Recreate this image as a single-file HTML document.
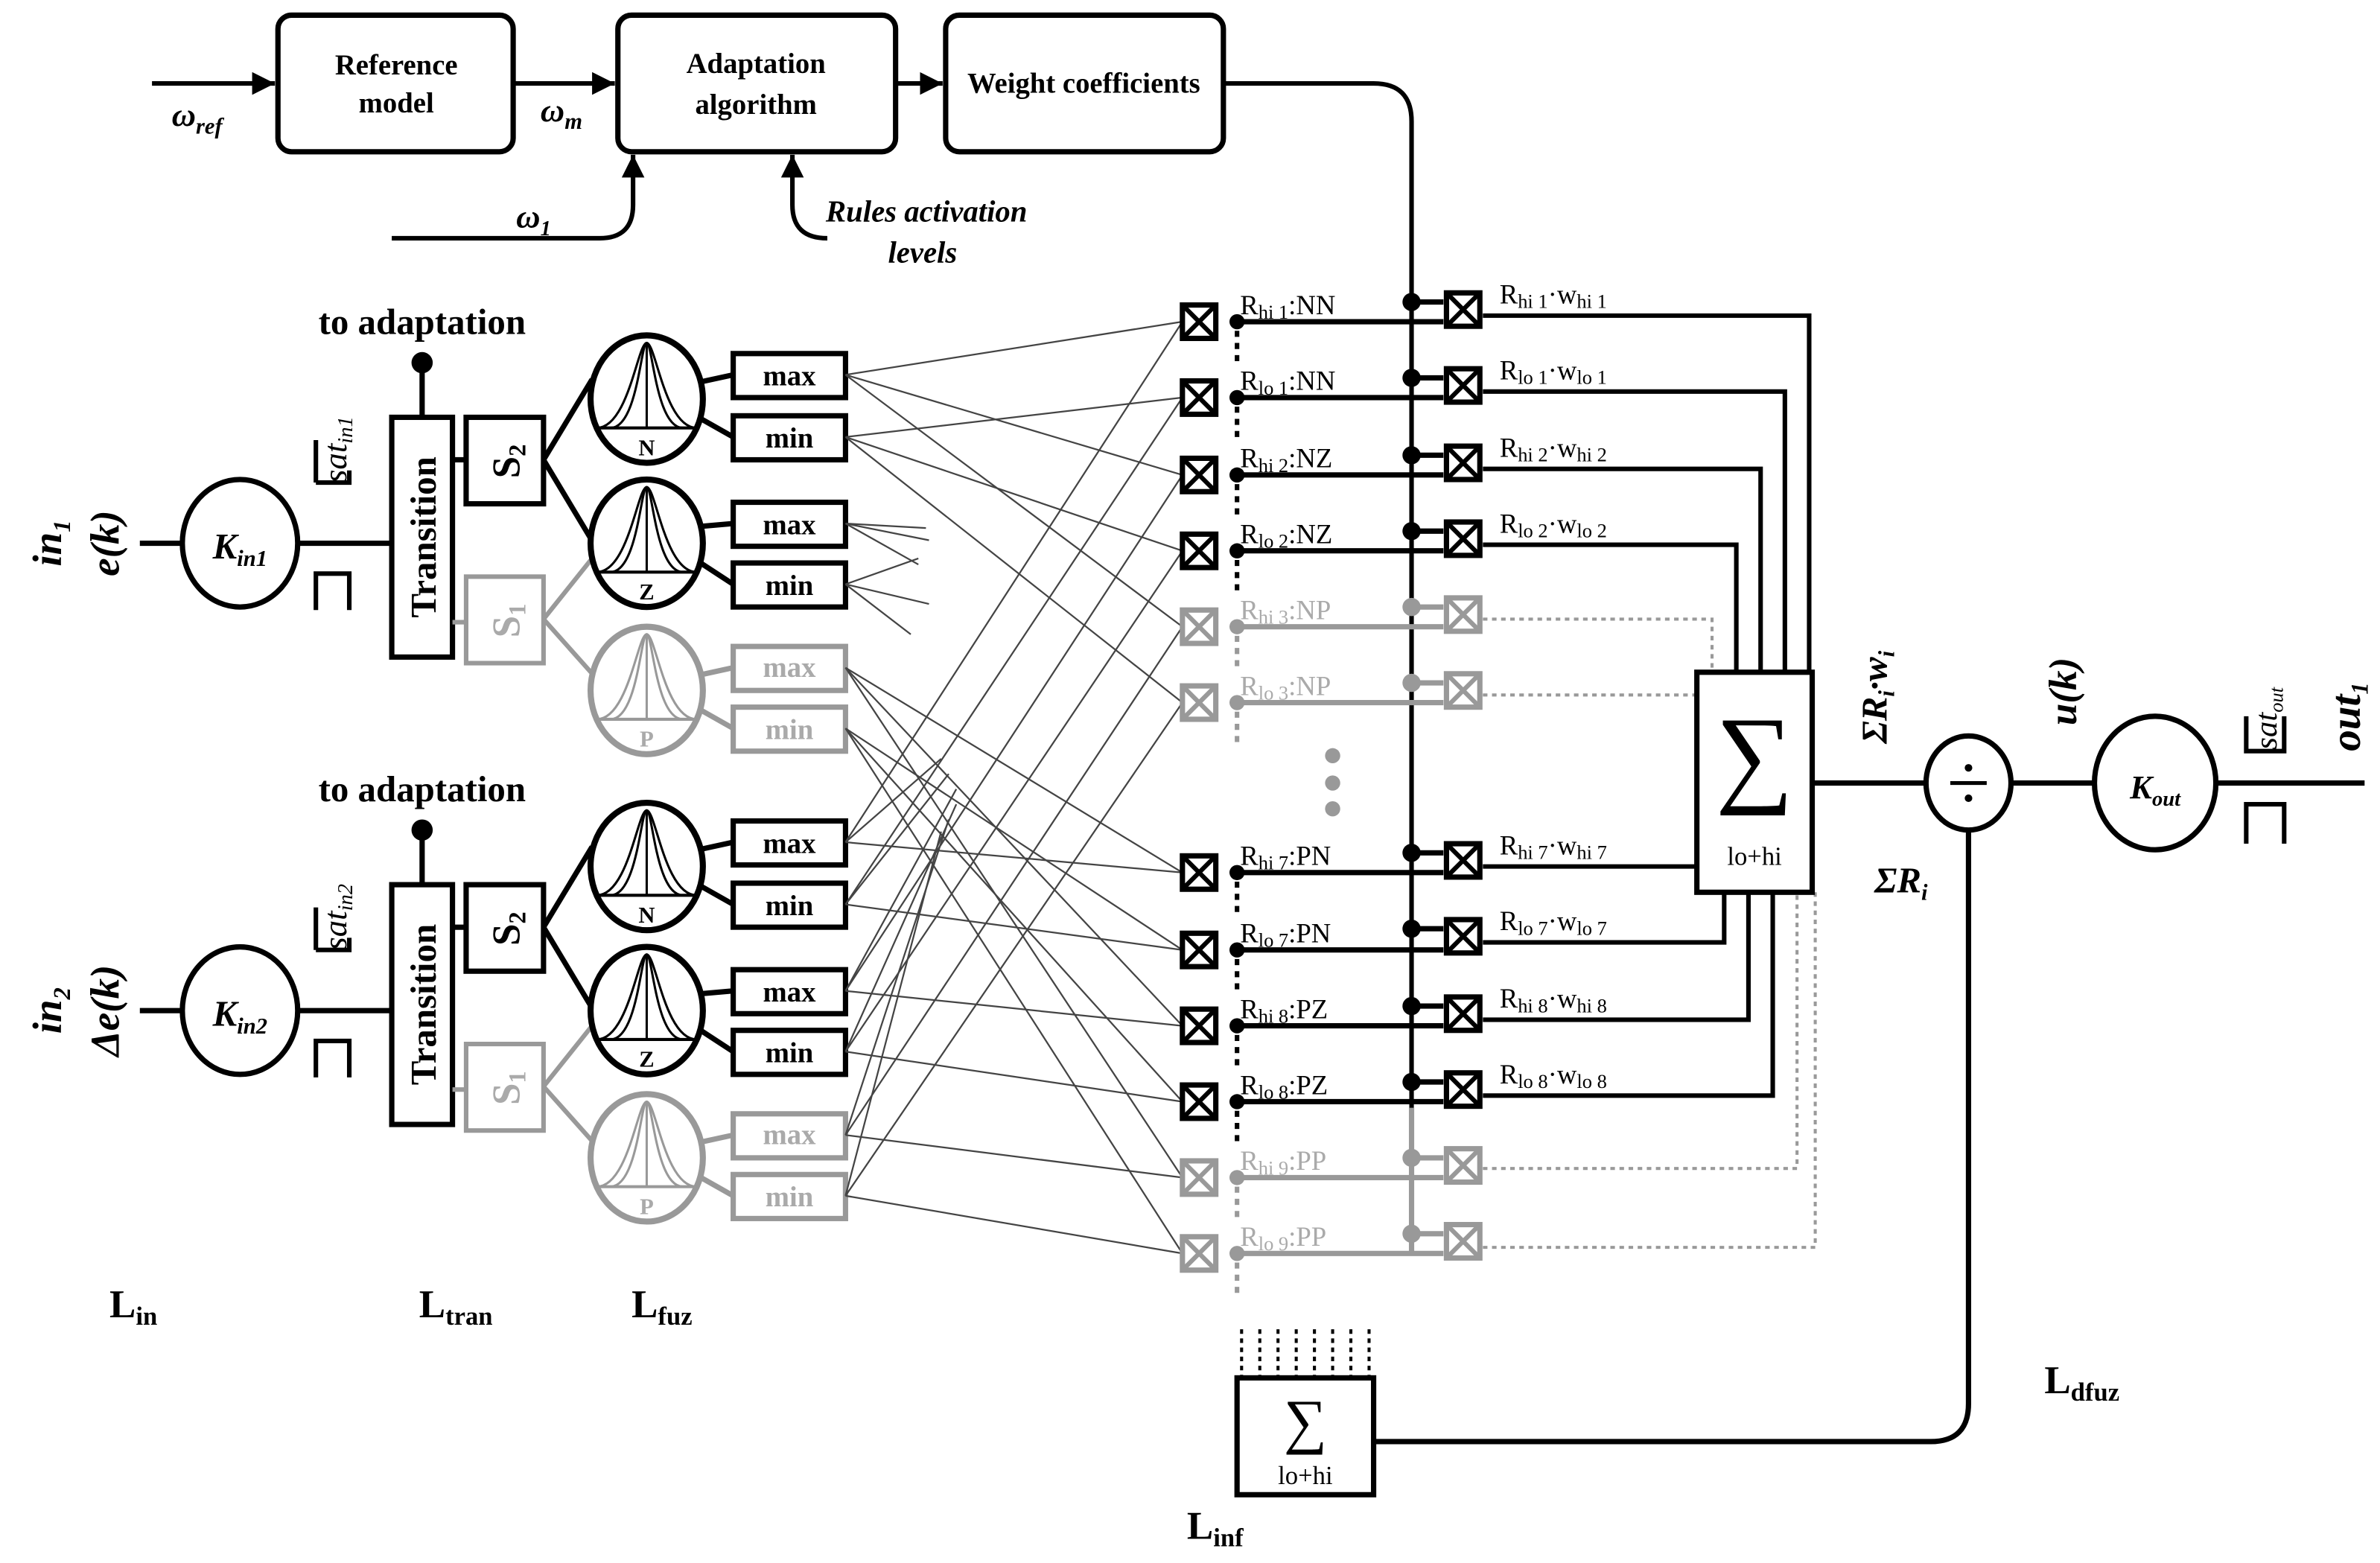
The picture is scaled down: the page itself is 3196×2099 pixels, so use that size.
<!DOCTYPE html>
<html><head><meta charset="utf-8"><style>
html,body{margin:0;padding:0;background:#fff;}
svg{display:block;}
text{font-family:"Liberation Serif",serif;}
.b{font-weight:bold;}
.bi{font-weight:bold;font-style:italic;}
</style></head><body>
<svg width="3196" height="2099" viewBox="0 0 1568 1030" xmlns="http://www.w3.org/2000/svg">
<defs>
<g id="mf">
<ellipse cx="0" cy="0" rx="37" ry="42" fill="#fff" stroke-width="4"/>
<line x1="-33" y1="19" x2="33" y2="19" stroke-width="2"/>
<line x1="0" y1="-37" x2="0" y2="19" stroke-width="1.5"/>
<path d="M-33,19 C-12,19 -6,-37 0,-37 C6,-37 12,19 33,19" fill="none" stroke-width="1.5"/>
<path d="M-24,19 C-6,19 -4,-37 0,-37 C4,-37 6,19 24,19" fill="none" stroke-width="1.5"/>
</g>
<g id="rb">
<rect x="-11" y="-11" width="22" height="22" fill="#fff" stroke-width="3.5"/>
<line x1="-10" y1="-10" x2="10" y2="10" stroke-width="3"/>
<line x1="10" y1="-10" x2="-10" y2="10" stroke-width="3"/>
</g>
<marker id="ar" viewBox="0 0 10 10" refX="10" refY="5" markerWidth="5" markerHeight="5" orient="auto"><path d="M0,0 L10,5 L0,10 z" fill="#000"/></marker>
</defs>

<g stroke="#000" stroke-width="3.5" fill="#fff">
<rect x="183" y="10" width="155" height="90" rx="9"/>
<rect x="407" y="10" width="183" height="90" rx="9"/>
<rect x="623" y="10" width="183" height="90" rx="9"/>
</g>
<g stroke="#000" stroke-width="3" fill="none">
<line x1="100" y1="55" x2="181" y2="55" marker-end="url(#ar)"/>
<line x1="338" y1="55" x2="405" y2="55" marker-end="url(#ar)"/>
<line x1="590" y1="55" x2="621" y2="55" marker-end="url(#ar)"/>
<path d="M806,55 L905,55 Q930,55 930,80 L930,826"/>
<path d="M258,157 L395,157 Q417,157 417,135 L417,102" marker-end="url(#ar)"/>
<path d="M545,157 Q522,157 522,135 L522,102" marker-end="url(#ar)"/>
</g>
<g class="b" font-size="19" text-anchor="middle">
<text x="261" y="49">Reference</text><text x="261" y="74">model</text>
<text x="498" y="48">Adaptation</text><text x="498" y="75">algorithm</text>
<text x="714" y="61">Weight coefficients</text>
</g>
<text class="bi" x="113" y="83" font-size="22">ω<tspan font-size="15" dy="5">ref</tspan></text>
<text class="bi" x="356" y="80" font-size="22">ω<tspan font-size="15" dy="5">m</tspan></text>
<text class="bi" x="340" y="150" font-size="22">ω<tspan font-size="14" dy="5">1</tspan></text>
<text class="bi" x="544" y="146" font-size="20">Rules activation</text>
<text class="bi" x="585" y="173" font-size="20">levels</text>

<g id="grp1">
<text class="bi" font-size="27" transform="translate(40,358) rotate(-90)" text-anchor="middle">in<tspan font-size="16" dy="6">1</tspan></text>
<text class="bi" font-size="27" transform="translate(78,358) rotate(-90)" text-anchor="middle">e(k)</text>
<g stroke="#000" stroke-width="3.5" fill="none">
<line x1="92" y1="358" x2="120" y2="358"/>
<ellipse cx="158" cy="358" rx="38" ry="42" fill="#fff"/>
<line x1="196" y1="358" x2="258" y2="358"/>
<path d="M208,318 L208,290 M208,318 L230,318 L230,310" stroke-width="3"/>
<path d="M208,402 L208,378 L230,378 L230,402" stroke-width="3"/>
<rect x="258" y="275" width="40" height="158" fill="#fff"/>
<line x1="278" y1="275" x2="278" y2="240"/>
<line x1="298" y1="303" x2="307" y2="303"/>
<rect x="307" y="275" width="51" height="57" fill="#fff"/>
<line x1="358" y1="303" x2="390" y2="250"/>
<line x1="358" y1="303" x2="391" y2="358"/>
</g>
<circle cx="278" cy="239" r="7" fill="#000"/>
<text class="b" x="278" y="220" font-size="24" text-anchor="middle">to adaptation</text>
<text class="b" font-size="24" transform="translate(287,354) rotate(-90)" text-anchor="middle">Transition</text>
<text class="b" font-size="26" transform="translate(342,304) rotate(-90)" text-anchor="middle">S<tspan font-size="16" dy="4">2</tspan></text>
<text font-style="italic" font-size="22" transform="translate(228,318) rotate(-90)">sat<tspan font-size="14" dy="4">in1</tspan></text>
<g stroke="#999" stroke-width="3" fill="none">
<line x1="298" y1="410" x2="307" y2="410"/>
<rect x="307" y="380" width="51" height="57" fill="#fff"/>
<line x1="358" y1="408" x2="390" y2="368"/>
<line x1="358" y1="408" x2="391" y2="445"/>
</g>
<text class="b" font-size="26" fill="#aaa" transform="translate(342,409) rotate(-90)" text-anchor="middle">S<tspan font-size="16" dy="4">1</tspan></text>
<g stroke="#000"><use href="#mf" x="426" y="263"/><use href="#mf" x="426" y="358"/></g>
<g stroke="#999"><use href="#mf" x="426" y="455"/></g>
<text class="b" x="426" y="300" font-size="15" text-anchor="middle">N</text>
<text class="b" x="426" y="395" font-size="15" text-anchor="middle">Z</text>
<text class="b" x="426" y="492" font-size="15" text-anchor="middle" fill="#aaa">P</text>
<g stroke="#000" stroke-width="3.5" fill="#fff">
<line x1="460" y1="252" x2="483" y2="247"/><line x1="460" y1="275" x2="483" y2="288"/>
<line x1="460" y1="347" x2="483" y2="345"/><line x1="460" y1="370" x2="483" y2="385"/>
<rect x="483" y="233" width="74" height="29"/><rect x="483" y="274" width="74" height="29"/>
<rect x="483" y="331" width="74" height="29"/><rect x="483" y="371" width="74" height="29"/>
</g>
<g stroke="#999" stroke-width="3.5" fill="#fff">
<line x1="460" y1="445" x2="483" y2="440"/><line x1="460" y1="467" x2="483" y2="480"/>
<rect x="483" y="426" width="74" height="29"/><rect x="483" y="466" width="74" height="29"/>
</g>
<g class="b" font-size="19" text-anchor="middle">
<text x="520" y="254">max</text><text x="520" y="295">min</text>
<text x="520" y="352">max</text><text x="520" y="392">min</text>
<text x="520" y="446" fill="#aaa">max</text><text x="520" y="487" fill="#aaa">min</text>
</g>
</g>

<g id="grp2">
<text class="bi" font-size="27" transform="translate(40,666) rotate(-90)" text-anchor="middle">in<tspan font-size="16" dy="6">2</tspan></text>
<text class="bi" font-size="27" transform="translate(78,666) rotate(-90)" text-anchor="middle">Δe(k)</text>
<g stroke="#000" stroke-width="3.5" fill="none">
<line x1="92" y1="666" x2="120" y2="666"/>
<ellipse cx="158" cy="666" rx="38" ry="42" fill="#fff"/>
<line x1="196" y1="666" x2="258" y2="666"/>
<path d="M208,626 L208,598 M208,626 L230,626 L230,618" stroke-width="3"/>
<path d="M208,710 L208,686 L230,686 L230,710" stroke-width="3"/>
<rect x="258" y="583" width="40" height="158" fill="#fff"/>
<line x1="278" y1="583" x2="278" y2="548"/>
<line x1="298" y1="611" x2="307" y2="611"/>
<rect x="307" y="583" width="51" height="57" fill="#fff"/>
<line x1="358" y1="611" x2="390" y2="558"/>
<line x1="358" y1="611" x2="391" y2="666"/>
</g>
<circle cx="278" cy="547" r="7" fill="#000"/>
<text class="b" x="278" y="528" font-size="24" text-anchor="middle">to adaptation</text>
<text class="b" font-size="24" transform="translate(287,662) rotate(-90)" text-anchor="middle">Transition</text>
<text class="b" font-size="26" transform="translate(342,612) rotate(-90)" text-anchor="middle">S<tspan font-size="16" dy="4">2</tspan></text>
<text font-style="italic" font-size="22" transform="translate(228,626) rotate(-90)">sat<tspan font-size="14" dy="4">in2</tspan></text>
<g stroke="#999" stroke-width="3" fill="none">
<line x1="298" y1="718" x2="307" y2="718"/>
<rect x="307" y="688" width="51" height="57" fill="#fff"/>
<line x1="358" y1="716" x2="390" y2="676"/>
<line x1="358" y1="716" x2="391" y2="753"/>
</g>
<text class="b" font-size="26" fill="#aaa" transform="translate(342,717) rotate(-90)" text-anchor="middle">S<tspan font-size="16" dy="4">1</tspan></text>
<g stroke="#000"><use href="#mf" x="426" y="571"/><use href="#mf" x="426" y="666"/></g>
<g stroke="#999"><use href="#mf" x="426" y="763"/></g>
<text class="b" x="426" y="608" font-size="15" text-anchor="middle">N</text>
<text class="b" x="426" y="703" font-size="15" text-anchor="middle">Z</text>
<text class="b" x="426" y="800" font-size="15" text-anchor="middle" fill="#aaa">P</text>
<g stroke="#000" stroke-width="3.5" fill="#fff">
<line x1="460" y1="560" x2="483" y2="555"/><line x1="460" y1="583" x2="483" y2="596"/>
<line x1="460" y1="655" x2="483" y2="653"/><line x1="460" y1="678" x2="483" y2="693"/>
<rect x="483" y="541" width="74" height="29"/><rect x="483" y="582" width="74" height="29"/>
<rect x="483" y="639" width="74" height="29"/><rect x="483" y="679" width="74" height="29"/>
</g>
<g stroke="#999" stroke-width="3.5" fill="#fff">
<line x1="460" y1="753" x2="483" y2="748"/><line x1="460" y1="775" x2="483" y2="788"/>
<rect x="483" y="734" width="74" height="29"/><rect x="483" y="774" width="74" height="29"/>
</g>
<g class="b" font-size="19" text-anchor="middle">
<text x="520" y="562">max</text><text x="520" y="603">min</text>
<text x="520" y="660">max</text><text x="520" y="700">min</text>
<text x="520" y="754" fill="#aaa">max</text><text x="520" y="795" fill="#aaa">min</text>
</g>
</g>

<g stroke="#444" stroke-width="1.1">
<line x1="557" y1="247" x2="779" y2="212"/><line x1="557" y1="247" x2="779" y2="313"/><line x1="557" y1="247" x2="779" y2="413"/>
<line x1="557" y1="288" x2="779" y2="262"/><line x1="557" y1="288" x2="779" y2="363"/><line x1="557" y1="288" x2="779" y2="463"/>
<line x1="557" y1="440" x2="779" y2="575"/><line x1="557" y1="440" x2="779" y2="676"/><line x1="557" y1="440" x2="779" y2="776"/>
<line x1="557" y1="480" x2="779" y2="626"/><line x1="557" y1="480" x2="779" y2="726"/><line x1="557" y1="480" x2="779" y2="826"/>
<line x1="557" y1="555" x2="779" y2="212"/><line x1="557" y1="555" x2="779" y2="575"/>
<line x1="557" y1="596" x2="779" y2="262"/><line x1="557" y1="596" x2="779" y2="626"/>
<line x1="557" y1="653" x2="779" y2="313"/><line x1="557" y1="653" x2="779" y2="676"/>
<line x1="557" y1="693" x2="779" y2="363"/><line x1="557" y1="693" x2="779" y2="726"/>
<line x1="557" y1="748" x2="779" y2="413"/><line x1="557" y1="748" x2="779" y2="776"/>
<line x1="557" y1="788" x2="779" y2="463"/><line x1="557" y1="788" x2="779" y2="826"/>
<line x1="557" y1="345" x2="610" y2="348"/><line x1="557" y1="345" x2="612" y2="356"/><line x1="557" y1="345" x2="605" y2="372"/>
<line x1="557" y1="385" x2="605" y2="368"/><line x1="557" y1="385" x2="612" y2="398"/><line x1="557" y1="385" x2="600" y2="418"/>
<line x1="557" y1="555" x2="620" y2="500"/><line x1="557" y1="596" x2="625" y2="510"/>
<line x1="557" y1="653" x2="630" y2="520"/><line x1="557" y1="693" x2="630" y2="530"/>
<line x1="557" y1="748" x2="625" y2="540"/><line x1="557" y1="788" x2="620" y2="548"/>
</g>

<g stroke="#000" fill="none">
<g stroke-width="3.5">
<line x1="815" y1="212" x2="951" y2="212"/><line x1="815" y1="262" x2="951" y2="262"/>
<line x1="815" y1="313" x2="951" y2="313"/><line x1="815" y1="363" x2="951" y2="363"/>
<line x1="815" y1="575" x2="951" y2="575"/><line x1="815" y1="626" x2="951" y2="626"/>
<line x1="815" y1="676" x2="951" y2="676"/><line x1="815" y1="726" x2="951" y2="726"/>
<line x1="930" y1="199" x2="951" y2="199"/><line x1="930" y1="249" x2="951" y2="249"/>
<line x1="930" y1="300" x2="951" y2="300"/><line x1="930" y1="350" x2="951" y2="350"/>
<line x1="930" y1="562" x2="951" y2="562"/><line x1="930" y1="612" x2="951" y2="612"/>
<line x1="930" y1="663" x2="951" y2="663"/><line x1="930" y1="713" x2="951" y2="713"/>
</g>
<g stroke-width="3">
<polyline points="977,208 1192,208 1192,443"/>
<polyline points="977,258 1176,258 1176,443"/>
<polyline points="977,309 1160,309 1160,443"/>
<polyline points="977,359 1144,359 1144,443"/>
<line x1="977" y1="571" x2="1118" y2="571"/>
<polyline points="977,621 1136,621 1136,588"/>
<polyline points="977,672 1152,672 1152,588"/>
<polyline points="977,722 1168,722 1168,588"/>
</g>
<g stroke-width="3" stroke-dasharray="4,4">
<line x1="815" y1="218" x2="815" y2="242"/><line x1="815" y1="268" x2="815" y2="292"/>
<line x1="815" y1="319" x2="815" y2="343"/><line x1="815" y1="369" x2="815" y2="393"/>
<line x1="815" y1="581" x2="815" y2="605"/><line x1="815" y1="632" x2="815" y2="656"/>
<line x1="815" y1="682" x2="815" y2="706"/><line x1="815" y1="732" x2="815" y2="756"/>
</g>
</g>
<g stroke="#999" fill="none">
<g stroke-width="3.5">
<line x1="815" y1="413" x2="951" y2="413"/><line x1="815" y1="463" x2="951" y2="463"/>
<line x1="815" y1="776" x2="951" y2="776"/><line x1="815" y1="826" x2="951" y2="826"/>
<line x1="930" y1="400" x2="951" y2="400"/><line x1="930" y1="450" x2="951" y2="450"/>
<line x1="930" y1="763" x2="951" y2="763"/><line x1="930" y1="813" x2="951" y2="813"/>
<line x1="930" y1="730" x2="930" y2="826"/>
</g>
<g stroke-width="2" stroke-dasharray="3,3">
<polyline points="977,408 1128,408 1128,443"/>
<line x1="977" y1="458" x2="1118" y2="458"/>
<polyline points="977,770 1184,770 1184,588"/>
<polyline points="977,822 1196,822 1196,588"/>
</g>
<g stroke-width="3" stroke-dasharray="4,4">
<line x1="815" y1="419" x2="815" y2="443"/><line x1="815" y1="469" x2="815" y2="493"/>
<line x1="815" y1="782" x2="815" y2="806"/><line x1="815" y1="832" x2="815" y2="852"/>
</g>
</g>
<g fill="#000">
<circle cx="815" cy="212" r="5"/><circle cx="815" cy="262" r="5"/><circle cx="815" cy="313" r="5"/><circle cx="815" cy="363" r="5"/>
<circle cx="815" cy="575" r="5"/><circle cx="815" cy="626" r="5"/><circle cx="815" cy="676" r="5"/><circle cx="815" cy="726" r="5"/>
<circle cx="930" cy="199" r="6"/><circle cx="930" cy="249" r="6"/><circle cx="930" cy="300" r="6"/><circle cx="930" cy="350" r="6"/>
<circle cx="930" cy="562" r="6"/><circle cx="930" cy="612" r="6"/><circle cx="930" cy="663" r="6"/><circle cx="930" cy="713" r="6"/>
</g>
<g fill="#999">
<circle cx="815" cy="413" r="5"/><circle cx="815" cy="463" r="5"/><circle cx="815" cy="776" r="5"/><circle cx="815" cy="826" r="5"/>
<circle cx="930" cy="400" r="6"/><circle cx="930" cy="450" r="6"/><circle cx="930" cy="763" r="6"/><circle cx="930" cy="813" r="6"/>
<circle cx="878" cy="498" r="5"/><circle cx="878" cy="516" r="5"/><circle cx="878" cy="533" r="5"/>
</g>
<g stroke="#000">
<use href="#rb" x="790" y="212"/><use href="#rb" x="790" y="262"/><use href="#rb" x="790" y="313"/><use href="#rb" x="790" y="363"/>
<use href="#rb" x="790" y="575"/><use href="#rb" x="790" y="626"/><use href="#rb" x="790" y="676"/><use href="#rb" x="790" y="726"/>
<use href="#rb" x="964" y="204"/><use href="#rb" x="964" y="254"/><use href="#rb" x="964" y="305"/><use href="#rb" x="964" y="355"/>
<use href="#rb" x="964" y="567"/><use href="#rb" x="964" y="617"/><use href="#rb" x="964" y="668"/><use href="#rb" x="964" y="718"/>
</g>
<g stroke="#999">
<use href="#rb" x="790" y="413"/><use href="#rb" x="790" y="463"/><use href="#rb" x="790" y="776"/><use href="#rb" x="790" y="826"/>
<use href="#rb" x="964" y="405"/><use href="#rb" x="964" y="455"/><use href="#rb" x="964" y="768"/><use href="#rb" x="964" y="818"/>
</g>
<g font-size="18">
<text x="817" y="207">R<tspan font-size="13" dy="3">hi 1</tspan><tspan dy="-3">:NN</tspan></text>
<text x="817" y="257">R<tspan font-size="13" dy="3">lo 1</tspan><tspan dy="-3">:NN</tspan></text>
<text x="817" y="308">R<tspan font-size="13" dy="3">hi 2</tspan><tspan dy="-3">:NZ</tspan></text>
<text x="817" y="358">R<tspan font-size="13" dy="3">lo 2</tspan><tspan dy="-3">:NZ</tspan></text>
<text x="817" y="408" fill="#aaa">R<tspan font-size="13" dy="3">hi 3</tspan><tspan dy="-3">:NP</tspan></text>
<text x="817" y="458" fill="#aaa">R<tspan font-size="13" dy="3">lo 3</tspan><tspan dy="-3">:NP</tspan></text>
<text x="817" y="570">R<tspan font-size="13" dy="3">hi 7</tspan><tspan dy="-3">:PN</tspan></text>
<text x="817" y="621">R<tspan font-size="13" dy="3">lo 7</tspan><tspan dy="-3">:PN</tspan></text>
<text x="817" y="671">R<tspan font-size="13" dy="3">hi 8</tspan><tspan dy="-3">:PZ</tspan></text>
<text x="817" y="721">R<tspan font-size="13" dy="3">lo 8</tspan><tspan dy="-3">:PZ</tspan></text>
<text x="817" y="771" fill="#aaa">R<tspan font-size="13" dy="3">hi 9</tspan><tspan dy="-3">:PP</tspan></text>
<text x="817" y="821" fill="#aaa">R<tspan font-size="13" dy="3">lo 9</tspan><tspan dy="-3">:PP</tspan></text>
<g font-size="18">
<text x="988" y="200">R<tspan font-size="13" dy="3">hi 1</tspan><tspan dy="-3">·w</tspan><tspan font-size="13" dy="3">hi 1</tspan></text>
<text x="988" y="250">R<tspan font-size="13" dy="3">lo 1</tspan><tspan dy="-3">·w</tspan><tspan font-size="13" dy="3">lo 1</tspan></text>
<text x="988" y="301">R<tspan font-size="13" dy="3">hi 2</tspan><tspan dy="-3">·w</tspan><tspan font-size="13" dy="3">hi 2</tspan></text>
<text x="988" y="351">R<tspan font-size="13" dy="3">lo 2</tspan><tspan dy="-3">·w</tspan><tspan font-size="13" dy="3">lo 2</tspan></text>
<text x="988" y="563">R<tspan font-size="13" dy="3">hi 7</tspan><tspan dy="-3">·w</tspan><tspan font-size="13" dy="3">hi 7</tspan></text>
<text x="988" y="613">R<tspan font-size="13" dy="3">lo 7</tspan><tspan dy="-3">·w</tspan><tspan font-size="13" dy="3">lo 7</tspan></text>
<text x="988" y="664">R<tspan font-size="13" dy="3">hi 8</tspan><tspan dy="-3">·w</tspan><tspan font-size="13" dy="3">hi 8</tspan></text>
<text x="988" y="714">R<tspan font-size="13" dy="3">lo 8</tspan><tspan dy="-3">·w</tspan><tspan font-size="13" dy="3">lo 8</tspan></text>
</g>
</g>

<rect x="1118" y="443" width="76" height="145" fill="#fff" stroke="#000" stroke-width="3.5"/>
<text x="1156" y="522" font-size="72" text-anchor="middle">∑</text>
<text x="1156" y="570" font-size="17" text-anchor="middle">lo+hi</text>

<g stroke="#000" stroke-width="3.5" fill="none">
<line x1="1194" y1="516" x2="1269" y2="516"/>
<ellipse cx="1297" cy="516" rx="28" ry="31" fill="#fff"/>
<line x1="1325" y1="516" x2="1380" y2="516"/>
<ellipse cx="1420" cy="516" rx="40" ry="44" fill="#fff"/>
<line x1="1460" y1="516" x2="1558" y2="516"/>
<path d="M1480,472 L1480,495 L1505,495 L1505,472" stroke-width="3"/>
<path d="M1480,556 L1480,530 L1505,530 L1505,556" stroke-width="3"/>
<path d="M1297,547 L1297,925 Q1297,950 1272,950 L905,950"/>
<rect x="815" y="908" width="90" height="77" fill="#fff"/>
</g>
<line x1="1285" y1="516" x2="1309" y2="516" stroke="#000" stroke-width="2.5"/>
<circle cx="1297" cy="506" r="2.5"/><circle cx="1297" cy="526" r="2.5"/>
<g stroke="#000" stroke-width="2" stroke-dasharray="3,3">
<line x1="818" y1="876" x2="818" y2="908"/><line x1="830" y1="876" x2="830" y2="908"/><line x1="842" y1="876" x2="842" y2="908"/>
<line x1="854" y1="876" x2="854" y2="908"/><line x1="866" y1="876" x2="866" y2="908"/><line x1="878" y1="876" x2="878" y2="908"/>
<line x1="890" y1="876" x2="890" y2="908"/><line x1="902" y1="876" x2="902" y2="908"/>
</g>
<text x="860" y="950" font-size="40" text-anchor="middle">∑</text>
<text x="860" y="978" font-size="17" text-anchor="middle">lo+hi</text>

<text class="bi" x="1420" y="526" font-size="22" text-anchor="middle">K<tspan font-size="14" dy="5">out</tspan></text>
<text class="bi" x="158" y="368" font-size="24" text-anchor="middle">K<tspan font-size="15" dy="5">in1</tspan></text>
<text class="bi" x="158" y="676" font-size="24" text-anchor="middle">K<tspan font-size="15" dy="5">in2</tspan></text>
<text class="bi" font-size="24" transform="translate(1243,490) rotate(-90)">ΣR<tspan font-size="15" dy="5">i</tspan><tspan dy="-5">·w</tspan><tspan font-size="15" dy="5">i</tspan></text>
<text class="bi" x="1235" y="588" font-size="24">ΣR<tspan font-size="15" dy="5">i</tspan></text>
<text class="bi" font-size="26" transform="translate(1368,478) rotate(-90)">u(k)</text>
<text font-style="italic" font-size="21" transform="translate(1500,494) rotate(-90)">sat<tspan font-size="13" dy="4">out</tspan></text>
<text class="bi" font-size="28" transform="translate(1555,495) rotate(-90)">out<tspan font-size="16" dy="5">1</tspan></text>

<g class="b" font-size="26">
<text x="72" y="868">L<tspan font-size="17" dy="5">in</tspan></text>
<text x="276" y="868">L<tspan font-size="17" dy="5">tran</tspan></text>
<text x="416" y="868">L<tspan font-size="17" dy="5">fuz</tspan></text>
<text x="782" y="1014">L<tspan font-size="17" dy="5">inf</tspan></text>
<text x="1347" y="918">L<tspan font-size="17" dy="5">dfuz</tspan></text>
</g>
</svg>
</body></html>
